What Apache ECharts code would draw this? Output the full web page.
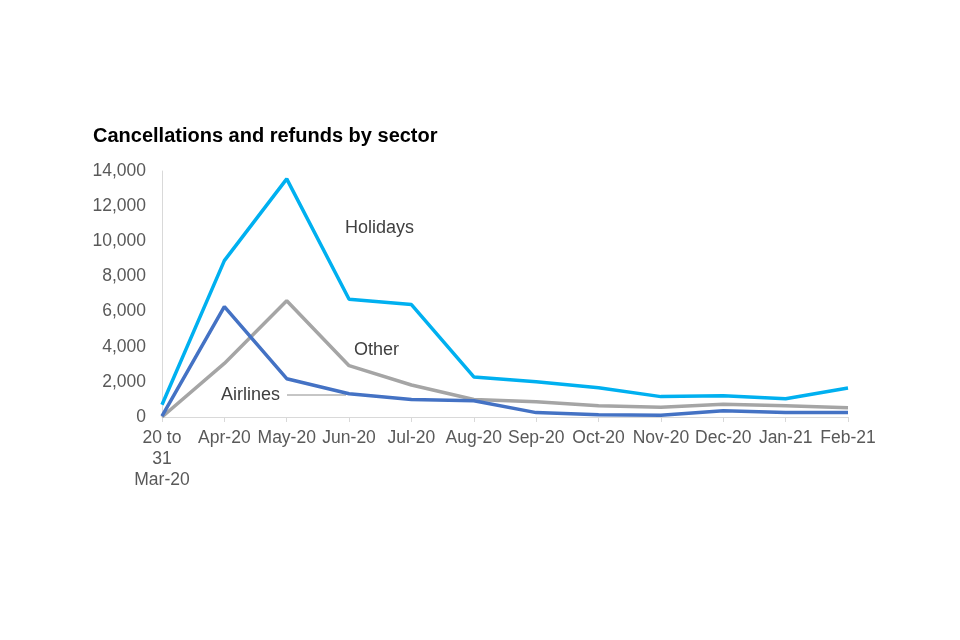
<!DOCTYPE html>
<html>
<head>
<meta charset="utf-8">
<script src="https://cdn.jsdelivr.net/npm/echarts@6/dist/echarts.min.js"></script>
<style>html,body{margin:0;padding:0;background:#fff}#c{width:960px;height:640px}</style>
</head>
<body>
<div id="c"></div>
<script>
const categories = ['20 to\n31\nMar-20','Apr-20','May-20','Jun-20','Jul-20','Aug-20','Sep-20','Oct-20','Nov-20','Dec-20','Jan-21','Feb-21'];
const holidays = [700, 8900, 13550, 6700, 6400, 2280, 2000, 1670, 1160, 1210, 1040, 1650];
const airlines = [50, 6280, 2180, 1320, 1000, 930, 250, 130, 100, 360, 250, 250];
const other = [0, 3050, 6620, 2920, 1820, 1000, 870, 640, 550, 720, 640, 530];
const yTicks = [0, 2000, 4000, 6000, 8000, 10000, 12000, 14000];

const chart = echarts.init(document.getElementById('c'));
const font = 'Liberation Sans, Arial, sans-serif';
const lineSeries = (name, data, color) => ({
  name, type: 'line', data, symbol: 'none', smooth: false,
  lineStyle: { color, width: 3.5 }, z: name === 'Holidays' ? 3 : 2
});
const note = (text, x, y) => ({
  type: 'text', x, y,
  style: { text, fontFamily: font, fontSize: 18, fill: '#404040', verticalAlign: 'middle', align: 'left' }
});
chart.setOption({
  animation: false,
  title: {
    text: 'Cancellations and refunds by sector', left: 88, top: 121,
    textStyle: { fontFamily: font, fontSize: 20, fontWeight: 'bold', color: '#000' }
  },
  grid: { left: 162, right: 112, top: 171, bottom: 223 },
  xAxis: {
    type: 'category', data: categories, boundaryGap: false,
    axisLine: { lineStyle: { color: '#d9d9d9', width: 1 } },
    axisTick: { show: true, lineStyle: { color: '#d9d9d9' }, length: 5 },
    axisLabel: { fontFamily: font, fontSize: 17.5, color: '#595959', margin: 11, lineHeight: 21, interval: 0 }
  },
  yAxis: {
    type: 'value', min: yTicks[0], max: yTicks[yTicks.length - 1], interval: 2000,
    axisLine: { show: true, lineStyle: { color: '#d9d9d9', width: 1 } },
    axisTick: { show: false },
    splitLine: { show: false },
    axisLabel: {
      fontFamily: font, fontSize: 17.5, color: '#595959', margin: 16,
      formatter: v => v.toLocaleString('en-US')
    }
  },
  series: [
    lineSeries('Other', other, '#A5A5A5'),
    lineSeries('Airlines', airlines, '#4472C4'),
    lineSeries('Holidays', holidays, '#00B0F0')
  ],
  graphic: [
    note('Holidays', 345, 228),
    note('Other', 354, 350),
    note('Airlines', 221, 395),
    { type: 'line', shape: { x1: 287, y1: 395, x2: 346, y2: 395 }, style: { stroke: '#8c8c8c', lineWidth: 1 } }
  ]
});
</script>
</body>
</html>
